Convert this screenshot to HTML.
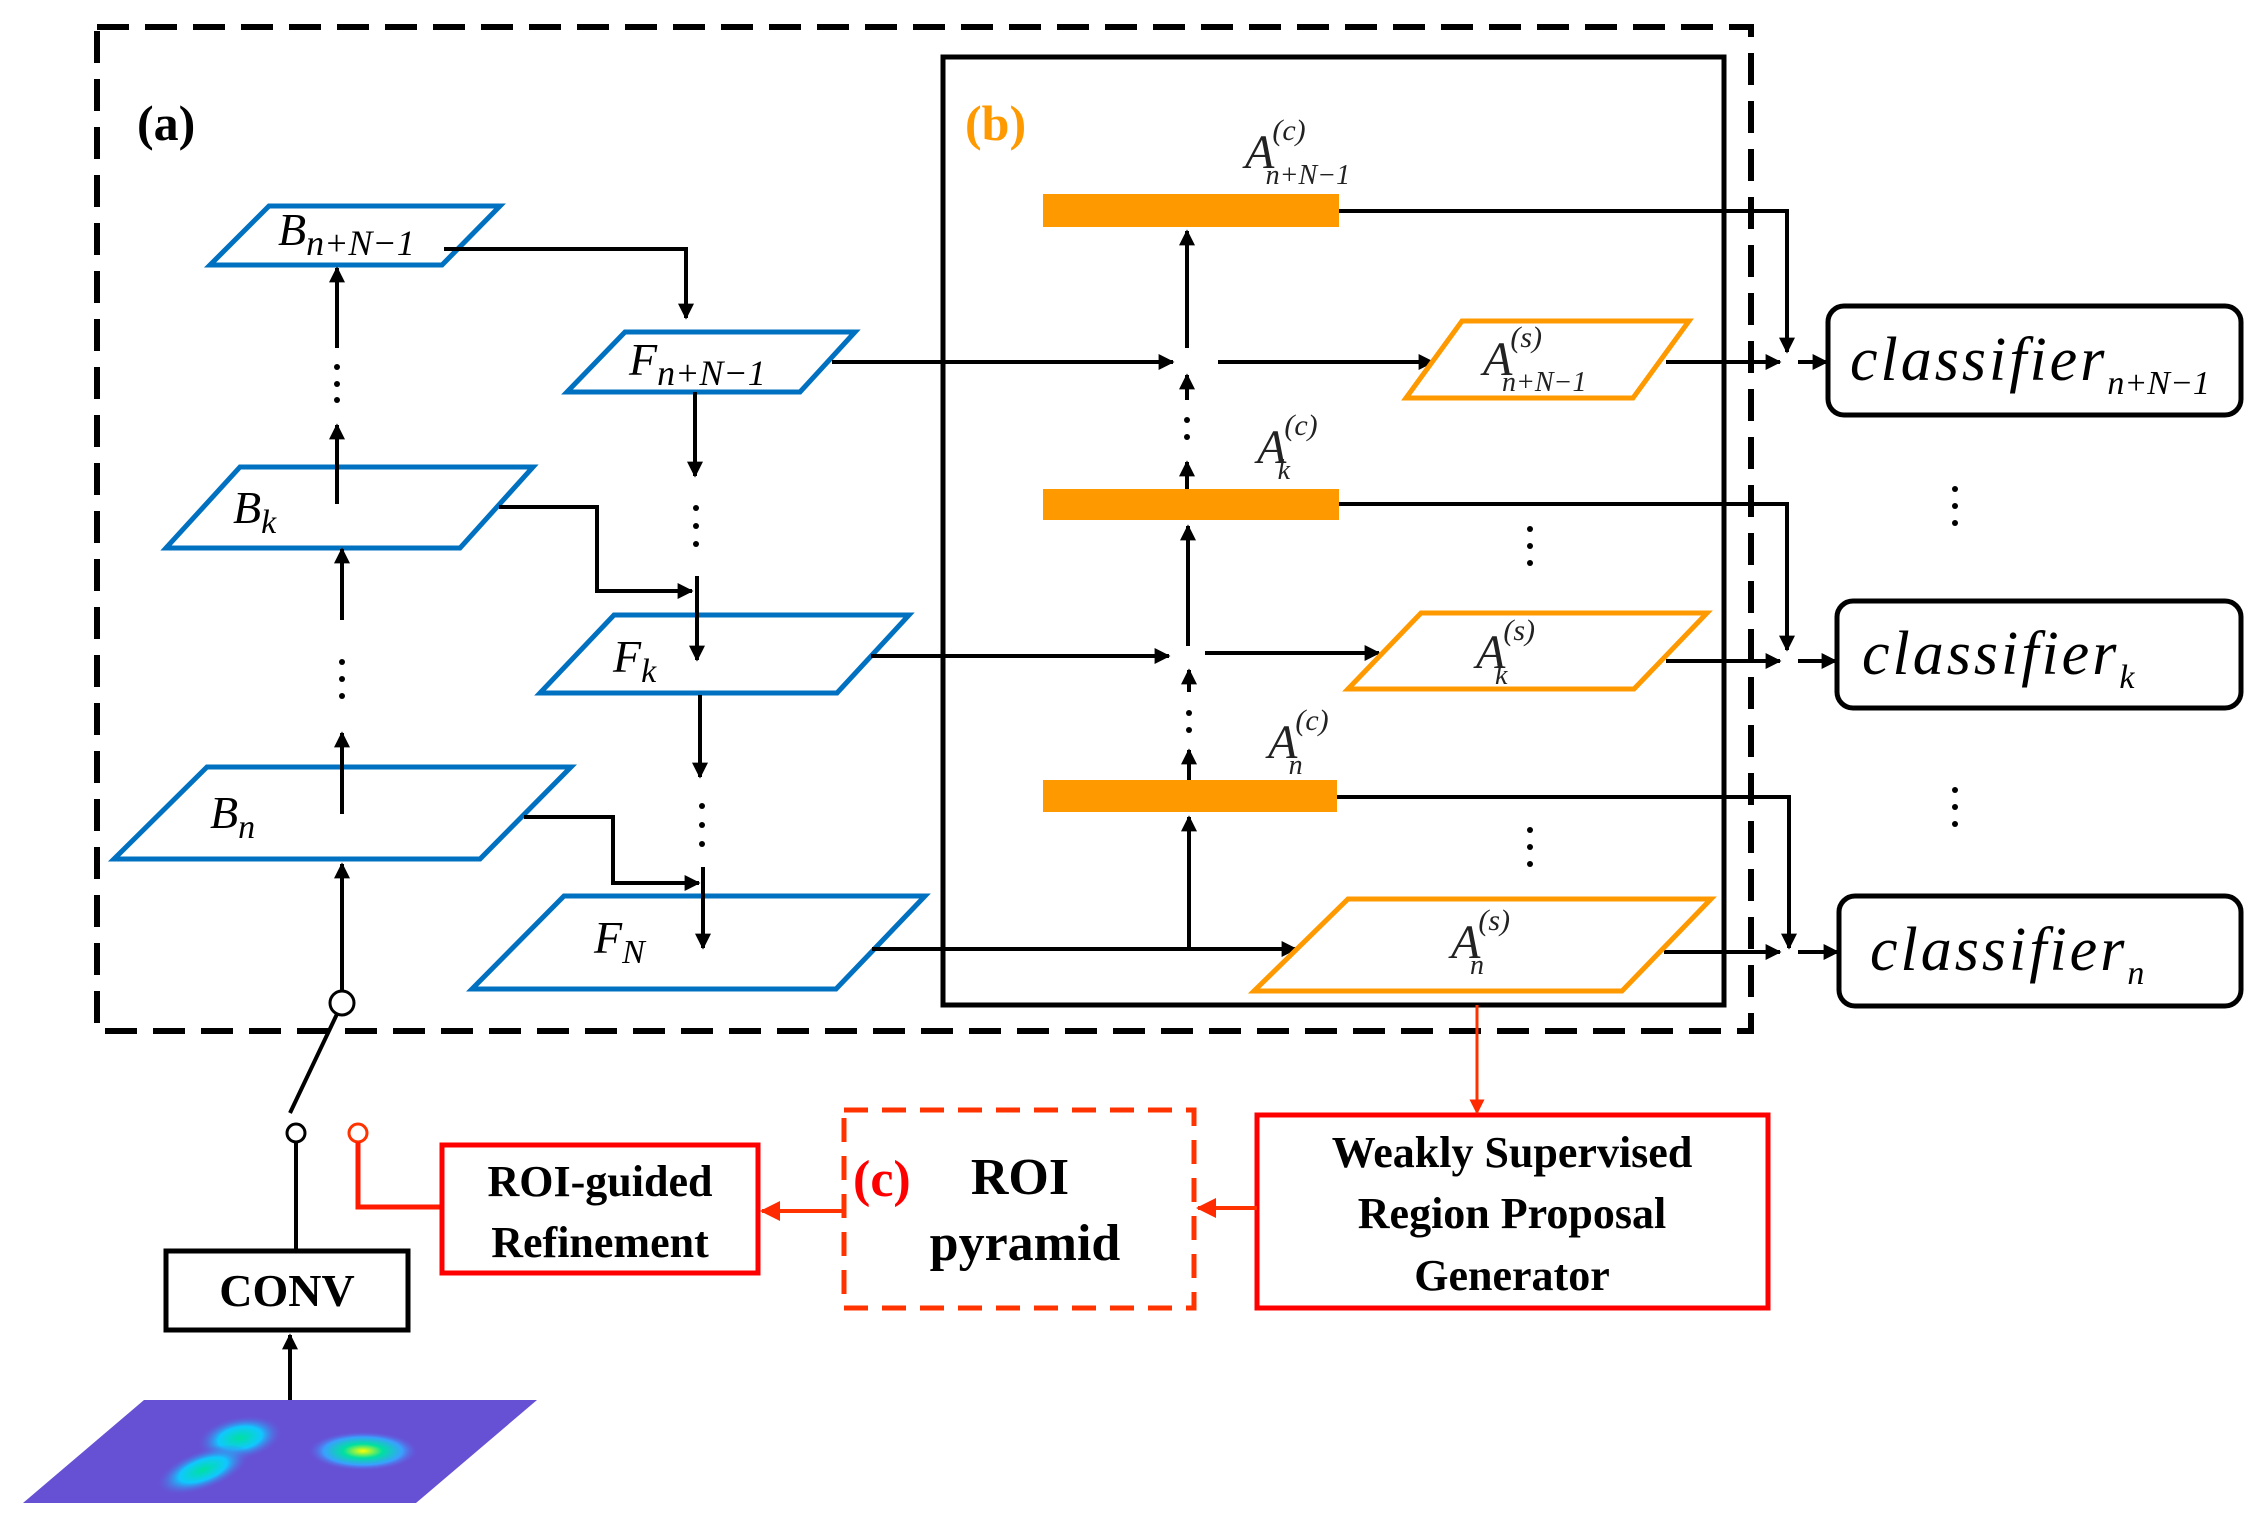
<!DOCTYPE html>
<html><head><meta charset="utf-8"><style>
html,body{margin:0;padding:0;background:#fff}
svg{display:block}
svg text{font-family:"Liberation Serif","Times New Roman",serif}
.it{font-style:italic}
.bd{font-weight:bold}
</style></head><body>
<svg width="2266" height="1539" viewBox="0 0 2266 1539" xmlns="http://www.w3.org/2000/svg" font-family="Liberation Serif, serif">
<defs>
<marker id="ah" viewBox="0 0 10 10" refX="9" refY="5" markerWidth="4" markerHeight="4" orient="auto" markerUnits="strokeWidth"><path d="M0,0 L10,5 L0,10 z" fill="#000"/></marker>
<marker id="rh" viewBox="0 0 10 10" refX="9" refY="5" markerWidth="5" markerHeight="5" orient="auto" markerUnits="strokeWidth"><path d="M0,0 L10,5 L0,10 z" fill="#ff2a00"/></marker>
<radialGradient id="g1"><stop offset="0" stop-color="#ffff00"/><stop offset="0.35" stop-color="#00e0a0"/><stop offset="0.7" stop-color="#3aa0ff"/><stop offset="1" stop-color="#6a4fd8" stop-opacity="0"/></radialGradient>
<radialGradient id="g2"><stop offset="0" stop-color="#00e0a0"/><stop offset="0.5" stop-color="#10c8ff"/><stop offset="1" stop-color="#6a4fd8" stop-opacity="0"/></radialGradient>
</defs>

<rect x="97" y="27" width="1654" height="1004" fill="none" stroke="#000" stroke-width="6" stroke-dasharray="32,16"/>
<rect x="943" y="57" width="781" height="948" fill="none" stroke="#000" stroke-width="5"/>

<text x="137" y="140" class="bd" font-weight="bold" font-size="50">(a)</text>
<text x="965" y="140" class="bd" font-weight="bold" font-size="50" fill="#FF9900">(b)</text>

<g fill="none" stroke="#0070C0" stroke-width="5">
<polygon points="269,206 500,206 442,265 210,265"/>
<polygon points="240,467 533,467 460,548 166,548"/>
<polygon points="207,767 571,767 480,859 114,859"/>
<polygon points="625,332 855,332 800,392 567,392"/>
<polygon points="614,615 909,615 837,693 540,693"/>
<polygon points="564,896 925,896 836,989 472,989"/>
</g>
<g class="it" font-style="italic" font-size="46">
<text x="278" y="245">B<tspan font-size="36" dy="10">n+N−1</tspan></text>
<text x="233" y="523">B<tspan font-size="34" dy="10">k</tspan></text>
<text x="210" y="828">B<tspan font-size="34" dy="10">n</tspan></text>
<text x="629" y="375">F<tspan font-size="36" dy="10">n+N−1</tspan></text>
<text x="613" y="672">F<tspan font-size="34" dy="10">k</tspan></text>
<text x="594" y="953">F<tspan font-size="34" dy="10">N</tspan></text>
</g>

<g stroke="#000" stroke-width="4" fill="none">
<line x1="342" y1="991" x2="342" y2="864" marker-end="url(#ah)"/>
<line x1="342" y1="814" x2="342" y2="733" marker-end="url(#ah)"/>
<line x1="342" y1="620" x2="342" y2="549" marker-end="url(#ah)"/>
<line x1="337" y1="504" x2="337" y2="425" marker-end="url(#ah)"/>
<line x1="337" y1="348" x2="337" y2="268" marker-end="url(#ah)"/>
<polyline points="444,249 686,249 686,318" marker-end="url(#ah)"/>
<polyline points="499,507 597,507 597,591 692,591" marker-end="url(#ah)"/>
<polyline points="524,817 613,817 613,883 699,883" marker-end="url(#ah)"/>
<line x1="695" y1="392" x2="695" y2="476" marker-end="url(#ah)"/>
<line x1="697" y1="576" x2="697" y2="660" marker-end="url(#ah)"/>
<line x1="700" y1="695" x2="700" y2="777" marker-end="url(#ah)"/>
<line x1="703" y1="867" x2="703" y2="948" marker-end="url(#ah)"/>
<line x1="832" y1="362" x2="1173" y2="362" marker-end="url(#ah)"/>
<line x1="871" y1="656" x2="1169" y2="656" marker-end="url(#ah)"/>
<line x1="872" y1="949" x2="1296" y2="949" marker-end="url(#ah)"/>
<line x1="1218" y1="362" x2="1433" y2="362" marker-end="url(#ah)"/>
<line x1="1205" y1="653" x2="1379" y2="653" marker-end="url(#ah)"/>
<line x1="1189" y1="949" x2="1189" y2="817" marker-end="url(#ah)"/>
<line x1="1189" y1="780" x2="1189" y2="750" marker-end="url(#ah)"/>
<line x1="1189" y1="692" x2="1189" y2="670" marker-end="url(#ah)"/>
<line x1="1188" y1="646" x2="1188" y2="526" marker-end="url(#ah)"/>
<line x1="1187" y1="489" x2="1187" y2="462" marker-end="url(#ah)"/>
<line x1="1187" y1="400" x2="1187" y2="375" marker-end="url(#ah)"/>
<line x1="1187" y1="348" x2="1187" y2="231" marker-end="url(#ah)"/>
<polyline points="1339,211 1787,211 1787,352" marker-end="url(#ah)"/>
<polyline points="1339,504 1787,504 1787,650" marker-end="url(#ah)"/>
<polyline points="1337,797 1789,797 1789,948" marker-end="url(#ah)"/>
<line x1="1666" y1="362" x2="1780" y2="362" marker-end="url(#ah)"/>
<line x1="1798" y1="362" x2="1827" y2="362" marker-end="url(#ah)"/>
<line x1="1666" y1="661" x2="1780" y2="661" marker-end="url(#ah)"/>
<line x1="1798" y1="661" x2="1836" y2="661" marker-end="url(#ah)"/>
<line x1="1664" y1="952" x2="1780" y2="952" marker-end="url(#ah)"/>
<line x1="1798" y1="952" x2="1838" y2="952" marker-end="url(#ah)"/>
</g>

<g fill="#000">
<circle cx="337" cy="367" r="3"/><circle cx="337" cy="384" r="3"/><circle cx="337" cy="400" r="3"/>
<circle cx="342" cy="662" r="3"/><circle cx="342" cy="679" r="3"/><circle cx="342" cy="696" r="3"/>
<circle cx="696" cy="508" r="3"/><circle cx="696" cy="526" r="3"/><circle cx="696" cy="544" r="3"/>
<circle cx="702" cy="806" r="3"/><circle cx="702" cy="825" r="3"/><circle cx="702" cy="844" r="3"/>
<circle cx="1187" cy="420" r="3"/><circle cx="1187" cy="437" r="3"/>
<circle cx="1189" cy="713" r="3"/><circle cx="1189" cy="730" r="3"/>
<circle cx="1530" cy="529" r="3"/><circle cx="1530" cy="546" r="3"/><circle cx="1530" cy="563" r="3"/>
<circle cx="1530" cy="830" r="3"/><circle cx="1530" cy="847" r="3"/><circle cx="1530" cy="864" r="3"/>
<circle cx="1955" cy="489" r="3"/><circle cx="1955" cy="506" r="3"/><circle cx="1955" cy="523" r="3"/>
<circle cx="1955" cy="790" r="3"/><circle cx="1955" cy="807" r="3"/><circle cx="1955" cy="824" r="3"/>
</g>

<g fill="#FF9900">
<rect x="1043" y="194" width="296" height="33"/>
<rect x="1043" y="489" width="296" height="31"/>
<rect x="1043" y="780" width="294" height="32"/>
</g>
<g fill="none" stroke="#FF9900" stroke-width="5">
<polygon points="1462,321 1689,321 1633,398 1406,398"/>
<polygon points="1421,613 1707,613 1634,689 1348,689"/>
<polygon points="1348,899 1711,899 1622,991 1254,991"/>
</g>
<g class="it" font-style="italic" font-size="48" fill="#222">
<text x="1245" y="168">A<tspan font-size="30" dy="-28" dx="-2">(c)</tspan><tspan font-size="28" dx="-40" dy="44">n+N−1</tspan></text>
<text x="1257" y="463">A<tspan font-size="30" dy="-28" dx="-2">(c)</tspan><tspan font-size="28" dx="-40" dy="44">k</tspan></text>
<text x="1268" y="758">A<tspan font-size="30" dy="-28" dx="-2">(c)</tspan><tspan font-size="28" dx="-40" dy="44">n</tspan></text>
<text x="1483" y="375">A<tspan font-size="30" dy="-28" dx="-2">(s)</tspan><tspan font-size="28" dx="-40" dy="44">n+N−1</tspan></text>
<text x="1476" y="668">A<tspan font-size="30" dy="-28" dx="-2">(s)</tspan><tspan font-size="28" dx="-40" dy="44">k</tspan></text>
<text x="1451" y="958">A<tspan font-size="30" dy="-28" dx="-2">(s)</tspan><tspan font-size="28" dx="-40" dy="44">n</tspan></text>
</g>

<g fill="none" stroke="#000" stroke-width="5">
<rect x="1828" y="306" width="413" height="109" rx="16"/>
<rect x="1837" y="601" width="404" height="107" rx="16"/>
<rect x="1839" y="896" width="402" height="110" rx="16"/>
</g>
<g class="it" font-style="italic" font-size="62" letter-spacing="3">
<text x="1850" y="380">classifier<tspan font-size="34" dy="14" letter-spacing="0">n+N−1</tspan></text>
<text x="1862" y="674">classifier<tspan font-size="34" dy="14" letter-spacing="0">k</tspan></text>
<text x="1870" y="970">classifier<tspan font-size="34" dy="14" letter-spacing="0">n</tspan></text>
</g>

<circle cx="342" cy="1003" r="12" fill="#fff" stroke="#000" stroke-width="3"/>
<line x1="337" y1="1014" x2="290" y2="1113" stroke="#000" stroke-width="4"/>
<circle cx="296" cy="1133" r="9" fill="#fff" stroke="#000" stroke-width="3"/>
<circle cx="358" cy="1133" r="9" fill="#fff" stroke="#ff3300" stroke-width="3"/>
<line x1="296" y1="1142" x2="296" y2="1251" stroke="#000" stroke-width="4"/>
<rect x="166" y="1251" width="242" height="79" fill="none" stroke="#000" stroke-width="5"/>
<text x="287" y="1306" font-weight="bold" font-size="46" text-anchor="middle">CONV</text>
<line x1="290" y1="1400" x2="290" y2="1335" stroke="#000" stroke-width="4" marker-end="url(#ah)"/>

<polygon points="144,1400 537,1400 416,1503 23,1503" fill="#6650d4"/>
<ellipse cx="240" cy="1438" rx="44" ry="22" fill="url(#g2)" transform="rotate(-10 240 1438)"/>
<ellipse cx="363" cy="1451" rx="56" ry="20" fill="url(#g1)"/>
<ellipse cx="203" cy="1470" rx="50" ry="20" fill="url(#g2)" transform="rotate(-20 203 1470)"/>

<g stroke="#ff1a00" stroke-width="5" fill="none">
<polyline points="358,1142 358,1207 442,1207"/>
<rect x="442" y="1145" width="316" height="128" stroke="#ff0000"/>
<rect x="1257" y="1115" width="511" height="193" stroke="#ff0000"/>
<rect x="844" y="1110" width="350" height="198" stroke="#ff3300" stroke-dasharray="24,14"/>
</g>
<line x1="844" y1="1211" x2="762" y2="1211" stroke="#ff3300" stroke-width="4" marker-end="url(#rh)"/>
<line x1="1257" y1="1208" x2="1198" y2="1208" stroke="#ff3300" stroke-width="4" marker-end="url(#rh)"/>
<line x1="1477" y1="1005" x2="1477" y2="1113" stroke="#ff3300" stroke-width="3" marker-end="url(#rh)"/>

<g font-weight="bold" font-size="44" text-anchor="middle">
<text x="600" y="1196">ROI-guided</text>
<text x="600" y="1257">Refinement</text>
<text x="1512" y="1167">Weakly Supervised</text>
<text x="1512" y="1228">Region Proposal</text>
<text x="1512" y="1290">Generator</text>
<text x="1020" y="1194" font-size="52">ROI</text>
<text x="1025" y="1260" font-size="52">pyramid</text>
</g>
<text x="853" y="1196" font-weight="bold" font-size="52" fill="#ff0000">(c)</text>
</svg>
</body></html>
